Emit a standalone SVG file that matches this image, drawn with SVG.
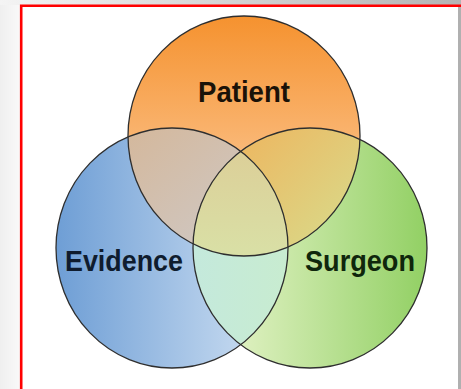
<svg xmlns="http://www.w3.org/2000/svg" width="461" height="389" viewBox="0 0 461 389">
<style>
.ring{fill:none;stroke:#2e2e2e;stroke-width:1.3}
.lbl{font-family:"Liberation Sans",Arial,sans-serif;font-weight:bold;font-size:29px;text-anchor:middle}
</style>
<defs>
<linearGradient id="gTop" x1="0" y1="0" x2="1" y2="0"><stop offset="0" stop-color="#f4f4f4"/><stop offset="1" stop-color="#b4b4b4"/></linearGradient>
<linearGradient id="gLeft" x1="0" y1="0" x2="1" y2="0"><stop offset="0" stop-color="#efefef"/><stop offset="1" stop-color="#f9f9f9"/></linearGradient>
<linearGradient id="gP" x1="0" y1="16" x2="0" y2="256" gradientUnits="userSpaceOnUse"><stop offset="0" stop-color="#f5922f"/><stop offset="0.45" stop-color="#f9b068"/><stop offset="1" stop-color="#fdd8b2"/></linearGradient>
<linearGradient id="gE" x1="56" y1="0" x2="288" y2="0" gradientUnits="userSpaceOnUse"><stop offset="0" stop-color="#6e9ed5"/><stop offset="1" stop-color="#d6e5f5"/></linearGradient>
<linearGradient id="gS" x1="193" y1="0" x2="427" y2="0" gradientUnits="userSpaceOnUse"><stop offset="0" stop-color="#f0f8d6"/><stop offset="1" stop-color="#92d064"/></linearGradient>
<linearGradient id="gPE" x1="128" y1="130" x2="230" y2="250" gradientUnits="userSpaceOnUse"><stop offset="0" stop-color="#d4b89c"/><stop offset="1" stop-color="#cfc8c4"/></linearGradient>
<linearGradient id="gPS" x1="250" y1="130" x2="360" y2="240" gradientUnits="userSpaceOnUse"><stop offset="0" stop-color="#ecb862"/><stop offset="1" stop-color="#d8dc8c"/></linearGradient>
<linearGradient id="gES" x1="193" y1="0" x2="288" y2="0" gradientUnits="userSpaceOnUse"><stop offset="0" stop-color="#c4e9dc"/><stop offset="1" stop-color="#c8ecd0"/></linearGradient>
<linearGradient id="gC" x1="0" y1="150" x2="0" y2="256" gradientUnits="userSpaceOnUse"><stop offset="0" stop-color="#dccf98"/><stop offset="1" stop-color="#d9e0a6"/></linearGradient>
<clipPath id="cP"><ellipse cx="244" cy="136" rx="116" ry="120"/></clipPath>
<clipPath id="cE"><ellipse cx="172" cy="248" rx="116" ry="120"/></clipPath>
<clipPath id="cS"><ellipse cx="310" cy="248" rx="117" ry="120"/></clipPath>
</defs>
<rect x="0" y="0" width="461" height="389" fill="#ffffff"/>
<rect x="0" y="0" width="461" height="5" fill="url(#gTop)"/>
<rect x="0" y="5" width="20" height="384" fill="url(#gLeft)"/>
<rect x="458" y="5" width="3" height="384" fill="#b0b0b0"/>
<path d="M21.2 389 V5.7 H461" fill="none" stroke="#ff0000" stroke-width="2.6"/>
<g id="patient">
<ellipse cx="244" cy="136" rx="116" ry="120" fill="url(#gP)"/>
</g>
<g id="evidence">
<ellipse cx="172" cy="248" rx="116" ry="120" fill="url(#gE)"/>
</g>
<g id="surgeon">
<ellipse cx="310" cy="248" rx="117" ry="120" fill="url(#gS)"/>
</g>
<g id="overlaps">
<g clip-path="url(#cP)"><ellipse cx="172" cy="248" rx="116" ry="120" fill="url(#gPE)"/><ellipse cx="310" cy="248" rx="117" ry="120" fill="url(#gPS)"/></g>
<g clip-path="url(#cE)"><ellipse cx="310" cy="248" rx="117" ry="120" fill="url(#gES)"/></g>
<g clip-path="url(#cE)"><g clip-path="url(#cS)"><ellipse cx="244" cy="136" rx="116" ry="120" fill="url(#gC)"/></g></g>
</g>
<g id="outlines">
<ellipse class="ring" cx="244" cy="136" rx="116" ry="120"/>
<ellipse class="ring" cx="172" cy="248" rx="116" ry="120"/>
<ellipse class="ring" cx="310" cy="248" rx="117" ry="120"/>
</g>
<g id="labels">
<text class="lbl" x="244" y="102" fill="#1a1208" textLength="92" lengthAdjust="spacingAndGlyphs">Patient</text>
<text class="lbl" x="124" y="271" fill="#0f1c2e" textLength="118" lengthAdjust="spacingAndGlyphs">Evidence</text>
<text class="lbl" x="360" y="271" fill="#0f260c" textLength="110" lengthAdjust="spacingAndGlyphs">Surgeon</text>
</g>
</svg>
